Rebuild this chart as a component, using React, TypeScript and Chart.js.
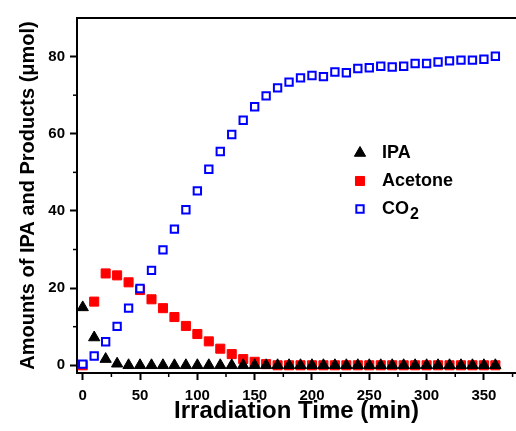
import React, { useEffect, useRef } from 'react';
import { Chart, registerables } from 'chart.js';
import { drawPoint } from 'chart.js/helpers';

Chart.register(...registerables);

const times = [0, 10, 20, 30, 40, 50, 60, 70, 80, 90, 100, 110, 120, 130, 140, 150, 160, 170, 180, 190, 200, 210, 220, 230, 240, 250, 260, 270, 280, 290, 300, 310, 320, 330, 340, 350, 360];
const ipa = [15, 7.2, 1.6, 0.4, 0, 0, 0, 0, 0, 0, 0, 0, 0, 0, 0, 0, 0, 0, 0, 0, 0, 0, 0, 0, 0, 0, 0, 0, 0, 0, 0, 0, 0, 0, 0, 0, 0];
const acetone = [0, 16.5, 23.8, 23.3, 21.5, 19.5, 17.1, 14.8, 12.5, 10.2, 8.1, 6.2, 4.3, 2.9, 1.6, 0.9, 0.3, 0, 0, 0, 0, 0, 0, 0, 0, 0, 0, 0, 0, 0, 0, 0, 0, 0, 0, 0, 0];
const co2 = [0.3, 2.4, 6.1, 10.1, 14.8, 19.9, 24.6, 29.9, 35.3, 40.3, 45.2, 50.8, 55.4, 59.8, 63.5, 67, 69.8, 71.9, 73.4, 74.5, 75.1, 74.8, 76, 75.8, 76.9, 77.1, 77.5, 77.3, 77.5, 78.2, 78.2, 78.6, 78.9, 79.1, 79.1, 79.3, 80.1];

const xTicks = [0, 50, 100, 150, 200, 250, 300, 350];
const xMinorTicks = [25, 75, 125, 175, 225, 275, 325, 375];
const yTicks = [0, 20, 40, 60, 80];
const yMinorTicks = [10, 30, 50, 70];

const seriesNames = ['IPA', 'Acetone', 'CO2'];
const xTitle = 'Irradiation Time (min)';
const yTitle = 'Amounts of IPA and Products (\u03bcmol)';

const FONT = "'Liberation Sans', Arial, Helvetica, sans-serif";

const styles = [
  { pointStyle: 'triangle', radius: 6.5, fill: '#000000', stroke: '#000000', borderWidth: 1, order: 0 },
  { pointStyle: 'rect', radius: 6.4, fill: '#ff0000', stroke: '#ff0000', borderWidth: 1, order: 2 },
  { pointStyle: 'rect', radius: 5.2, fill: '#ffffff', stroke: '#0000ff', borderWidth: 2, order: 1 },
];

const decorPlugin = {
  id: 'decor',
  afterDraw(chart: any) {
    const ctx = chart.ctx;
    const { left, right, top, bottom } = chart.chartArea;
    const xs = chart.scales.x;
    const ys = chart.scales.y;
    ctx.save();
    ctx.strokeStyle = '#000';
    ctx.lineWidth = 2;
    // top frame line
    ctx.beginPath();
    ctx.moveTo(left - 1, top);
    ctx.lineTo(right, top);
    ctx.stroke();
    // minor ticks
    ctx.lineWidth = 1.5;
    for (const v of yMinorTicks) {
      const py = ys.getPixelForValue(v);
      ctx.beginPath();
      ctx.moveTo(left - 4, py);
      ctx.lineTo(left, py);
      ctx.stroke();
    }
    for (const v of xMinorTicks) {
      const px = xs.getPixelForValue(v);
      if (px > right) continue;
      ctx.beginPath();
      ctx.moveTo(px, bottom);
      ctx.lineTo(px, bottom + 4);
      ctx.stroke();
    }
    // legend
    const lx = 360;
    const ly0 = 153;
    const dy = 28;
    const labelX = 382;
    seriesNames.forEach((name, i) => {
      const s = styles[i];
      const y = ly0 + i * dy;
      ctx.fillStyle = s.fill;
      ctx.strokeStyle = s.stroke;
      ctx.lineWidth = s.borderWidth;
      drawPoint(ctx, { pointStyle: s.pointStyle, radius: s.radius, rotation: 0, borderWidth: s.borderWidth }, lx, y);
      ctx.fillStyle = '#000';
      ctx.textBaseline = 'middle';
      ctx.textAlign = 'left';
      ctx.font = `bold 18px ${FONT}`;
      if (name === 'CO2') {
        ctx.fillText('CO', labelX, y);
        const w = ctx.measureText('CO').width;
        ctx.font = `bold 16px ${FONT}`;
        ctx.fillText('2', labelX + w + 1, y + 6);
      } else {
        ctx.fillText(name, labelX, y);
      }
    });
    ctx.restore();
  },
};

export default function App() {
  const ref = useRef<HTMLCanvasElement | null>(null);
  useEffect(() => {
    document.body.style.margin = '0';
    document.body.style.overflow = 'hidden';
    const canvas = ref.current;
    if (!canvas) return;
    const seriesData = [ipa, acetone, co2];
    const chart = new Chart(canvas, {
      type: 'scatter',
      data: {
        datasets: seriesNames.map((name, i) => ({
          label: name,
          data: times.map((t, j) => ({ x: t, y: seriesData[i][j] })),
          pointStyle: styles[i].pointStyle as any,
          pointRadius: styles[i].radius,
          pointHoverRadius: styles[i].radius,
          backgroundColor: styles[i].fill,
          borderColor: styles[i].stroke,
          pointBorderWidth: styles[i].borderWidth,
          borderWidth: styles[i].borderWidth,
          showLine: false,
          order: styles[i].order,
          clip: false as any,
        })),
      },
      options: {
        animation: false,
        responsive: false,
        devicePixelRatio: 1,
        layout: { autoPadding: false, padding: { top: 18, right: 0, left: 0, bottom: 0 } },
        plugins: { legend: { display: false }, tooltip: { enabled: false } },
        scales: {
          x: {
            type: 'linear',
            min: -5,
            max: 378,
            afterBuildTicks: (scale: any) => {
              scale.ticks = xTicks.map((v) => ({ value: v }));
            },
            afterFit: (scale: any) => {
              scale.height = 58;
              scale.paddingRight = 0;
              scale.paddingLeft = 0;
            },
            grid: { drawOnChartArea: false, drawTicks: true, tickLength: 7, tickWidth: 2, tickColor: '#000' },
            border: { display: true, color: '#000', width: 2 },
            ticks: {
              color: '#000',
              padding: 7,
              maxRotation: 0,
              autoSkip: false,
              font: { family: FONT, size: 15, weight: 'bold' },
            },
            title: {
              display: true,
              text: xTitle,
              color: '#000',
              font: { family: FONT, size: 24, weight: 'bold' },
              padding: { top: 0, bottom: 5 },
            },
          },
          y: {
            type: 'linear',
            min: -2,
            max: 90,
            afterBuildTicks: (scale: any) => {
              scale.ticks = yTicks.map((v) => ({ value: v }));
            },
            afterFit: (scale: any) => {
              scale.width = 77;
              scale.paddingTop = 0;
              scale.paddingBottom = 0;
            },
            grid: { drawOnChartArea: false, drawTicks: true, tickLength: 7, tickWidth: 2, tickColor: '#000' },
            border: { display: true, color: '#000', width: 2 },
            ticks: {
              color: '#000',
              padding: 5,
              autoSkip: false,
              font: { family: FONT, size: 15, weight: 'bold' },
            },
            title: {
              display: true,
              text: yTitle,
              color: '#000',
              font: { family: FONT, size: 20, weight: 'bold' },
              padding: { top: 16, bottom: 0 },
            },
          },
        },
      },
      plugins: [decorPlugin],
    } as any);
    return () => chart.destroy();
  }, []);
  return (
    <div style={{ width: 516, height: 431, background: '#fff' }}>
      <canvas ref={ref} width={516} height={431} style={{ display: 'block' }} />
    </div>
  );
}
